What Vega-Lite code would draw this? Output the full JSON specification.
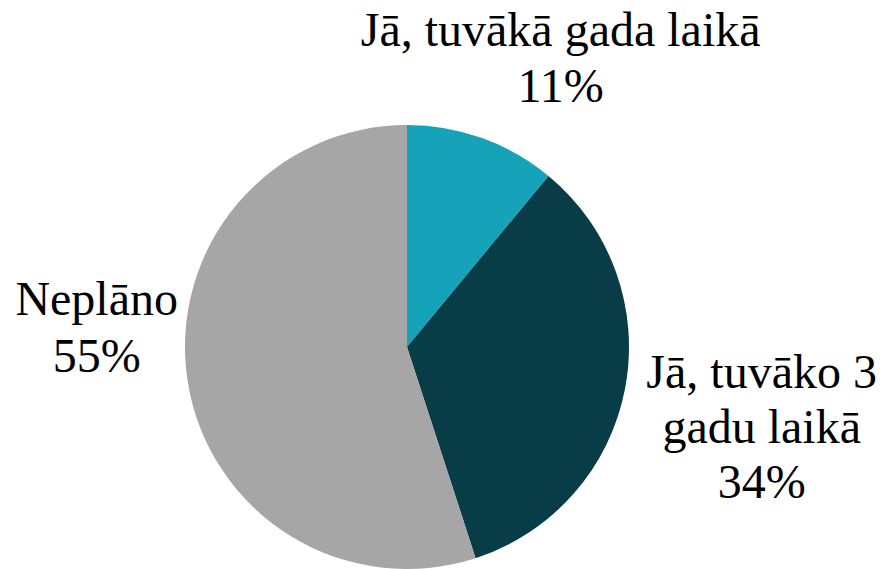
{
  "$schema": "https://vega.github.io/schema/vega-lite/v6.json",
  "width": 814,
  "height": 444,
  "autosize": "none",
  "padding": {"left": 0, "top": 125, "right": 71, "bottom": 0},
  "background": "white",
  "view": {"stroke": null},
  "data": {
    "values": [
      {"i": 1, "category": "Jā, tuvākā gada laikā", "label": "Jā, tuvākā gada laikā", "value": 0.11},
      {"i": 2, "category": "Jā, tuvāko 3 gadu laikā", "label": "Jā, tuvāko 3\ngadu laikā", "value": 0.34},
      {"i": 3, "category": "Neplāno", "label": "Neplāno", "value": 0.55}
    ]
  },
  "transform": [
    {"stack": "value", "groupby": [], "sort": [{"field": "i", "order": "ascending"}], "as": ["v0", "v1"]},
    {"calculate": "(datum.v0 + datum.v1) / 2", "as": "mid"},
    {"calculate": "datum.label + '\\n' + format(datum.value, '.0%')", "as": "text"}
  ],
  "layer": [
    {
      "mark": {"type": "arc", "radius": 222, "stroke": null},
      "encoding": {
        "theta": {"field": "v0", "type": "quantitative", "scale": {"domain": [0, 1]}},
        "theta2": {"field": "v1"},
        "color": {
          "field": "category",
          "type": "nominal",
          "scale": {
            "domain": ["Jā, tuvākā gada laikā", "Jā, tuvāko 3 gadu laikā", "Neplāno"],
            "range": ["#16A3BA", "#083C46", "#A6A6A6"]
          },
          "legend": null
        }
      }
    },
    {
      "transform": [{"filter": "datum.i == 1"}],
      "mark": {"type": "text", "radius": 300, "dx": 52, "dy": -33, "font": "Liberation Serif", "fontSize": 48, "lineHeight": 56, "lineBreak": "\n", "align": "center", "baseline": "middle", "color": "black"},
      "encoding": {
        "theta": {"field": "mid", "type": "quantitative", "stack": null, "scale": {"domain": [0, 1]}},
        "text": {"field": "text"}
      }
    },
    {
      "transform": [{"filter": "datum.i == 2"}],
      "mark": {"type": "text", "radius": 300, "dx": 60, "dy": -29, "font": "Liberation Serif", "fontSize": 48, "lineHeight": 55, "lineBreak": "\n", "align": "center", "baseline": "middle", "color": "black"},
      "encoding": {
        "theta": {"field": "mid", "type": "quantitative", "stack": null, "scale": {"domain": [0, 1]}},
        "text": {"field": "text"}
      }
    },
    {
      "transform": [{"filter": "datum.i == 3"}],
      "mark": {"type": "text", "radius": 300, "dx": -14, "dy": -93, "font": "Liberation Serif", "fontSize": 48, "lineHeight": 57, "lineBreak": "\n", "align": "center", "baseline": "middle", "color": "black"},
      "encoding": {
        "theta": {"field": "mid", "type": "quantitative", "stack": null, "scale": {"domain": [0, 1]}},
        "text": {"field": "text"}
      }
    }
  ]
}
